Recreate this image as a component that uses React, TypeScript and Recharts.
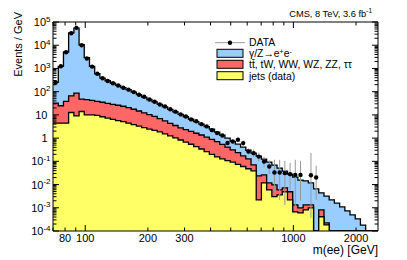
import React from 'react';
import { ComposedChart, Area, Scatter, ErrorBar, XAxis, YAxis, ReferenceArea } from 'recharts';

const FONT = '"Liberation Sans", Arial, Helvetica, sans-serif';
const W = 407;
const H = 260;
const PLOT = { left: 53, right: 378, top: 22, bottom: 231 };
const FLOOR = 1e-4;

// bin edges in GeV (63 bins)
const binEdges = [70.0, 74.2, 78.6, 83.2, 88.2, 93.4, 98.9, 104.8, 111.0, 117.6, 124.6, 132.0, 139.8, 148.1, 156.9, 166.2, 176.1, 186.5, 197.6, 209.3, 221.7, 234.9, 248.8, 263.6, 279.2, 295.8, 313.3, 331.9, 351.6, 372.5, 394.6, 418.0, 442.8, 469.1, 496.9, 526.4, 557.6, 590.7, 625.8, 662.9, 702.2, 743.9, 788.0, 834.8, 884.3, 936.8, 992.4, 1051, 1114, 1180, 1250, 1324, 1403, 1486, 1574, 1668, 1767, 1871, 1983, 2100, 2225, 2357, 2497, 2645];

// stacked totals: gamma/Z + ttbar etc + jets
const stackTotal = [250, 1230, 5100, 34000, 55000, 10500, 2900, 1230, 590, 385, 295, 235, 185, 150, 122, 95, 75, 58.5, 46, 36, 28.3, 22.1, 17.3, 13.5, 10.6, 8.3, 6.5, 5.1, 4.0, 3.1, 2.42, 1.80, 1.33, 0.99, 0.73, 0.55, 0.41, 0.30, 0.225, 0.167, 0.124, 0.093, 0.069, 0.051, 0.038, 0.028, 0.021, 0.0156, 0.0145, 0.0118, 0.0065, 0.0044, 0.0032, 0.0022, 0.0016, 0.0011, 0.00074, 0.00049, 0.00033, 0.00018, 0, 0, 0];
// ttbar, tW, WW, WZ, ZZ, tautau + jets
const stackTtbarJets = [32, 24.7, 38, 66, 87, 48, 45, 42.5, 38.5, 35, 31.6, 28.6, 26, 23.5, 20.6, 17.5, 14.7, 12.3, 10.3, 8.6, 6.9, 5.5, 4.35, 3.5, 2.75, 2.3, 1.95, 1.62, 1.36, 1.11, 0.89, 0.70, 0.54, 0.41, 0.31, 0.237, 0.173, 0.128, 0.071, 0.0237, 0.026, 0.0118, 0.0097, 0.0059, 0.0072, 0.0049, 0.00133, 0.0010, 0.00133, 0.00133, 0, 0.00081, 0.000224, 0, 0, 0, 0, 0, 0, 0, 0, 0, 0];
// jets (data)
const stackJets = [4.4, 4.4, 4.4, 12.7, 9.1, 14, 10, 10, 9.6, 8.3, 7.3, 6.45, 5.7, 5.1, 4.4, 3.8, 3.3, 2.83, 2.46, 2.14, 1.87, 1.53, 1.26, 1.02, 0.83, 0.67, 0.545, 0.43, 0.34, 0.264, 0.20, 0.156, 0.128, 0.108, 0.093, 0.074, 0.060, 0.048, 0.039, 0.0022, 0.0118, 0.0059, 0.0030, 0.0036, 0.0049, 0.0022, 0.00066, 0.0006, 0.00081, 0.0010, 0, 0.00041, 0.000183, 0, 0, 0, 0, 0, 0, 0, 0, 0, 0];

// DATA points (events / GeV) per bin
const dataVals: (number | null)[] = [250, 1250, 5000, 33000, 56000, 10000, 2700, 1200, 590, 380, 290, 232, 183, 148, 122, 96, 74, 60, 46, 37, 28, 23, 17.5, 13.8, 10.5, 8.5, 6.4, 5.3, 4.0, 3.2, 2.2, 1.65, 1.3, 0.62, 0.71, 0.85, 0.61, 0.264, 0.225, 0.16, 0.098, 0.06, 0.033, 0.033, 0.031, 0.028, 0.026, 0.026, null, 0.025, 0.020, null, null, null, null, null, null, null, null, null, null, null, null];
// error bar ends (lower / upper)
const dataErrLo: (number | null)[] = [...Array(36).fill(null), 0.45, 0.19, 0.15, 0.10, 0.055, 0.028, 0.005, 0.0022, 0.0013, 0.006, 0.0008, 0.002, null, 0.00037, 0.0022, ...Array(12).fill(null)];
const dataErrHi: (number | null)[] = [...Array(36).fill(null), 0.8, 0.36, 0.32, 0.24, 0.16, 0.11, 0.116, 0.116, 0.105, 0.086, 0.116, 0.105, null, 0.23, 0.064, ...Array(12).fill(null)];

const xTicks = [70, 80, 90, 100, 200, 300, 400, 500, 600, 700, 800, 900, 1000, 2000];
const xTickLabels: Record<number, string> = { 80: '80', 100: '100', 200: '200', 300: '300', 1000: '1000', 2000: '2000' };
const xMajor = [100, 1000];

const yDecades = [1e-4, 1e-3, 1e-2, 1e-1, 1, 10, 1e2, 1e3, 1e4, 1e5];
const yDecadeLabels: [string, string][] = [['10', '-4'], ['10', '-3'], ['10', '-2'], ['10', '-1'], ['1', ''], ['10', ''], ['10', '2'], ['10', '3'], ['10', '4'], ['10', '5']];
const yMinorMultipliers = [2, 3, 4, 5, 6, 7, 8, 9];

const COLORS = { dy: '#99ccff', ttbar: '#ff6666', jets: '#ffff66' };

const histRows = binEdges.map((m, i) => {
  const j = Math.min(i, stackTotal.length - 1);
  return {
    m,
    total: stackTotal[j] || FLOOR,
    mid: stackTtbarJets[j] || FLOOR,
    jets: stackJets[j] || FLOOR,
  };
});

const points = dataVals.flatMap((v, i) => {
  if (v == null) return [];
  const lo = dataErrLo[i];
  const hi = dataErrHi[i];
  return [{
    m: Math.sqrt(binEdges[i] * binEdges[i + 1]),
    v,
    err: [lo == null ? 0 : v - lo, hi == null ? 0 : hi - v],
  }];
});

const yTicks = [
  ...yDecades,
  ...yDecades.slice(0, -1).flatMap((d) => yMinorMultipliers.map((k) => d * k)),
].sort((a, b) => a - b);

function XTick(props: any) {
  const { x, payload } = props;
  const v = payload.value;
  const len = xMajor.includes(v) ? 6 : 3.5;
  const label = xTickLabels[v];
  return (
    <g>
      <line x1={x} x2={x} y1={PLOT.bottom} y2={PLOT.bottom - len} stroke="#000" strokeWidth={1} />
      <line x1={x} x2={x} y1={PLOT.top} y2={PLOT.top + len} stroke="#000" strokeWidth={1} />
      {label ? (
        <text x={x} y={242} textAnchor="middle" fontSize={11} fontFamily={FONT} fill="#000">
          {label}
        </text>
      ) : null}
    </g>
  );
}

function YTick(props: any) {
  const { y, payload } = props;
  const v = payload.value;
  const idx = yDecades.findIndex((d) => Math.abs(d - v) / d < 1e-6);
  const major = idx >= 0;
  const len = major ? 6 : 3.5;
  let label: React.ReactNode = null;
  if (major) {
    const [base, exp] = yDecadeLabels[idx];
    label = exp ? (
      <text x={50.5} y={y + 4} textAnchor="end" fontSize={11} fontFamily={FONT} fill="#000">
        {base}
        <tspan fontSize={8} dy={-4.5}>{exp}</tspan>
      </text>
    ) : (
      <text x={47.5} y={y + 4} textAnchor="end" fontSize={11} fontFamily={FONT} fill="#000">
        {base}
      </text>
    );
  }
  return (
    <g>
      <line x1={PLOT.left} x2={PLOT.left + len} y1={y} y2={y} stroke="#000" strokeWidth={1} />
      <line x1={PLOT.right} x2={PLOT.right - len} y1={y} y2={y} stroke="#000" strokeWidth={1} />
      {label}
    </g>
  );
}

const DataDot = (p: any) => <circle cx={p.cx} cy={p.cy} r={2.2} fill="#000" />;

export default function App() {
  return (
    <div style={{ position: 'absolute', left: 0, top: 0, width: W, height: H, background: '#fff' }}>
      <ComposedChart
        width={W}
        height={H}
        data={histRows}
        margin={{ top: PLOT.top, right: W - PLOT.right, bottom: 0, left: 8 }}
      >
        <XAxis
          dataKey="m"
          type="number"
          scale="log"
          domain={[70, 2550]}
          allowDataOverflow
          ticks={xTicks}
          interval={0}
          tick={<XTick />}
          tickLine={false}
          axisLine={false}
          height={H - PLOT.bottom}
        />
        <YAxis
          type="number"
          scale="log"
          domain={[FLOOR, 1e5]}
          allowDataOverflow
          ticks={yTicks}
          interval={0}
          tick={<YTick />}
          tickLine={false}
          axisLine={false}
          width={PLOT.left - 8}
        />
        <Area type="stepAfter" dataKey="total" baseValue={FLOOR} stroke="#000" strokeWidth={1.3} fill={COLORS.dy} fillOpacity={1} dot={false} activeDot={false} isAnimationActive={false} />
        <Area type="stepAfter" dataKey="mid" baseValue={FLOOR} stroke="#000" strokeWidth={1.3} fill={COLORS.ttbar} fillOpacity={1} dot={false} activeDot={false} isAnimationActive={false} />
        <Area type="stepAfter" dataKey="jets" baseValue={FLOOR} stroke="#000" strokeWidth={1.3} fill={COLORS.jets} fillOpacity={1} dot={false} activeDot={false} isAnimationActive={false} />
        <Scatter data={points} dataKey="v" shape={DataDot} isAnimationActive={false}>
          <ErrorBar dataKey="err" direction="y" width={0} stroke="#999" strokeWidth={1} />
        </Scatter>
        <ReferenceArea x1={70} x2={2550} y1={FLOOR} y2={1e5} fill="none" fillOpacity={0} stroke="#000" strokeWidth={1} ifOverflow="visible" />
      </ComposedChart>
      <svg width={W} height={H} style={{ position: 'absolute', left: 0, top: 0, pointerEvents: 'none' }} fontFamily={FONT}>
        <text x={372} y={16.5} textAnchor="end" fontSize={9.3} fill="#000">
          CMS, 8 TeV, 3.6 fb<tspan fontSize={6.5} dy={-3.5}>-1</tspan>
        </text>
        <text x={21.5} y={12} transform="rotate(-90 21.5 12)" textAnchor="end" fontSize={11} fill="#000">
          Events / GeV
        </text>
        <text x={378} y={254} textAnchor="end" fontSize={12} fill="#000">
          m(ee) [GeV]
        </text>
        {/* legend */}
        <line x1={215} x2={245} y1={42.7} y2={42.7} stroke="#999" strokeWidth={1} />
        <circle cx={230} cy={42.7} r={2.2} fill="#000" />
        <text x={249} y={46.4} fontSize={10.4} fill="#000">DATA</text>
        <rect x={217} y={49.3} width={26} height={8} fill={COLORS.dy} stroke="#000" strokeWidth={1} />
        <text x={249} y={57.2} fontSize={10.4} fill="#000">
          γ/Z→e<tspan fontSize={7} dy={-3.5}>+</tspan><tspan dy={3.5}>e</tspan><tspan fontSize={7} dy={-3.5}>-</tspan>
        </text>
        <rect x={217} y={60.3} width={26} height={8} fill={COLORS.ttbar} stroke="#000" strokeWidth={1} />
        <text x={249} y={68.2} fontSize={10.4} fill="#000">t{'t\u0304'}, tW, WW, WZ, ZZ, ττ</text>
        <rect x={217} y={71.7} width={26} height={8} fill={COLORS.jets} stroke="#000" strokeWidth={1} />
        <text x={249} y={79.6} fontSize={10.4} fill="#000">jets (data)</text>
      </svg>
    </div>
  );
}
